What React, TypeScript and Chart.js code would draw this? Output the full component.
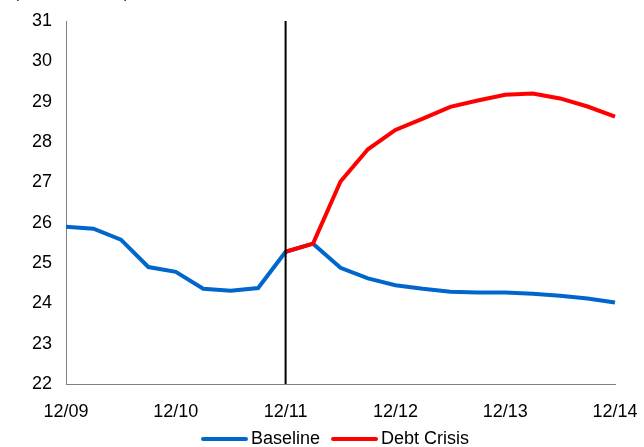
import React, { useEffect, useRef } from "react";
import { Chart, registerables } from "chart.js";

Chart.register(...registerables);

const quarters = [
  "12/09", "03/10", "06/10", "09/10", "12/10", "03/11", "06/11", "09/11", "12/11",
  "03/12", "06/12", "09/12", "12/12", "03/13", "06/13", "09/13", "12/13",
  "03/14", "06/14", "09/14", "12/14",
];
const baseline = [
  25.9, 25.85, 25.58, 24.9, 24.78, 24.36, 24.31, 24.38, 25.28,
  25.48, 24.88, 24.62, 24.45, 24.36, 24.29, 24.27, 24.27,
  24.24, 24.19, 24.12, 24.02,
];
const debtCrisis = [
  null, null, null, null, null, null, null, null, 25.28,
  25.48, 27.02, 27.82, 28.3, 28.58, 28.87, 29.03, 29.17,
  29.2, 29.08, 28.88, 28.63,
];
const markerLabel = "12/11";
const unitLabel = "(Percent of GDP)";
const yMin = 22;
const yMax = 31;

const FONT = "'Liberation Sans', Arial, sans-serif";
const FS = 18;

export default function App() {
  const ref = useRef<HTMLCanvasElement | null>(null);
  useEffect(() => {
    document.body.style.margin = "0";
    const canvas = ref.current!;
    const extras = {
      id: "extras",
      afterDatasetsDraw(chart: any) {
        const ctx = chart.ctx;
        const x = chart.scales.x.getPixelForValue(quarters.indexOf(markerLabel));
        const { top, bottom } = chart.chartArea;
        ctx.save();
        ctx.strokeStyle = "#000000";
        ctx.lineWidth = 2;
        ctx.beginPath();
        ctx.moveTo(x, top);
        ctx.lineTo(x, bottom);
        ctx.stroke();
        ctx.restore();
      },
      afterDraw(chart: any) {
        const ctx = chart.ctx;
        ctx.save();
        ctx.fillStyle = "#000000";
        ctx.font = `15px ${FONT}`;
        ctx.textBaseline = "alphabetic";
        ctx.textAlign = "left";
        ctx.fillText(unitLabel, 14, -2);

        // legend
        ctx.font = `${FS}px ${FONT}`;
        const lineLen = 45;
        const gapText = 4;
        const gapItem = 12;
        const items = chart.data.datasets.map((d: any) => ({
          label: d.label,
          color: d.borderColor,
          w: lineLen + gapText + ctx.measureText(d.label).width,
        }));
        const total = items.reduce((a: number, it: any) => a + it.w, 0) + gapItem * (items.length - 1);
        const { left, right } = chart.chartArea;
        let x = (left + right) / 2 - 5 - total / 2;
        const y = 439;
        ctx.textBaseline = "middle";
        for (const it of items) {
          ctx.strokeStyle = it.color;
          ctx.lineWidth = 4;
          ctx.lineCap = "round";
          ctx.beginPath();
          ctx.moveTo(x + 1, y);
          ctx.lineTo(x + lineLen - 1, y);
          ctx.stroke();
          ctx.fillText(it.label, x + lineLen + gapText, y);
          x += it.w + gapItem;
        }
        ctx.restore();
      },
    };
    const chart = new Chart(canvas, {
      type: "line",
      data: {
        labels: quarters,
        datasets: [
          {
            label: "Baseline",
            data: baseline,
            borderColor: "#0066CC",
            backgroundColor: "#0066CC",
            borderWidth: 4,
            pointRadius: 0,
            tension: 0,
            order: 1,
          },
          {
            label: "Debt Crisis",
            data: debtCrisis,
            borderColor: "#FF0000",
            backgroundColor: "#FF0000",
            borderWidth: 4,
            pointRadius: 0,
            tension: 0,
            order: 0,
          },
        ],
      },
      options: {
        animation: false,
        responsive: false,
        maintainAspectRatio: false,
        layout: { padding: { top: 21, right: 29, left: 0, bottom: 0 } },
        plugins: {
          tooltip: { enabled: false },
          legend: { display: false },
        },
        scales: {
          x: {
            type: "category",
            offset: false,
            grid: { display: false, drawTicks: false },
            border: { display: true, color: "#808080", width: 1 },
            ticks: {
              autoSkip: false,
              maxRotation: 0,
              padding: 17,
              color: "#000000",
              font: { family: FONT, size: FS },
              callback: (_v: any, i: number) => (i % 4 === 0 ? quarters[i] : ""),
            },
            afterFit: (s: any) => {
              s.height = 63;
              s.paddingLeft = 0;
              s.paddingRight = 0;
            },
          },
          y: {
            min: yMin,
            max: yMax,
            grid: { display: false, drawOnChartArea: false, drawTicks: true, tickLength: 5, color: "#808080" },
            border: { display: true, color: "#808080", width: 1 },
            ticks: {
              stepSize: 1,
              padding: 9,
              color: "#000000",
              font: { family: FONT, size: FS },
            },
            afterFit: (s: any) => {
              s.width = 66;
              s.paddingTop = 0;
              s.paddingBottom = 0;
            },
          },
        },
      },
      plugins: [extras],
    });
    return () => chart.destroy();
  }, []);
  return <canvas ref={ref} width={644} height={447} style={{ display: "block" }} />;
}
